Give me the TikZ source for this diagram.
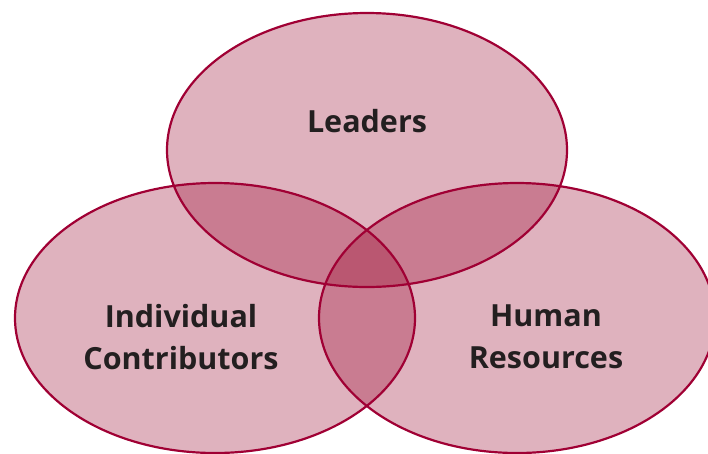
\documentclass[tikz,border=0pt]{standalone}
\usepackage{fontspec}
\setmainfont{Open Sans}
\definecolor{vfill}{RGB}{150,0,40}
\definecolor{vline}{RGB}{160,0,52}
\definecolor{vtext}{RGB}{35,31,32}
\begin{document}
\begin{tikzpicture}[x=1pt,y=-1pt,
  setfill/.style={fill=vfill,fill opacity=0.3},
  setline/.style={draw=vline,line width=2.2pt},
  lbl/.style={text=vtext,font=\fontsize{30.5}{42}\selectfont\bfseries,align=center}]
\useasboundingbox (0,0) rectangle (708,453);
\begin{scope}
\clip (0,0) rectangle (708,453);
\fill[setfill] (367,150) ellipse [x radius=200, y radius=137];
\fill[setfill] (215,318) ellipse [x radius=200, y radius=135];
\fill[setfill] (517,318) ellipse [x radius=198, y radius=135];
\draw[setline] (367,150) ellipse [x radius=200, y radius=137];
\draw[setline] (215,318) ellipse [x radius=200, y radius=135];
\draw[setline] (517,318) ellipse [x radius=198, y radius=135];
\end{scope}
\node[lbl] (lead) at (367,121) {Leaders};
\node[lbl] (ind) at (181,337) {Individual\\Contributors};
\node[lbl] (hr) at (546,337) {Human\\Resources};
\end{tikzpicture}
\end{document}
